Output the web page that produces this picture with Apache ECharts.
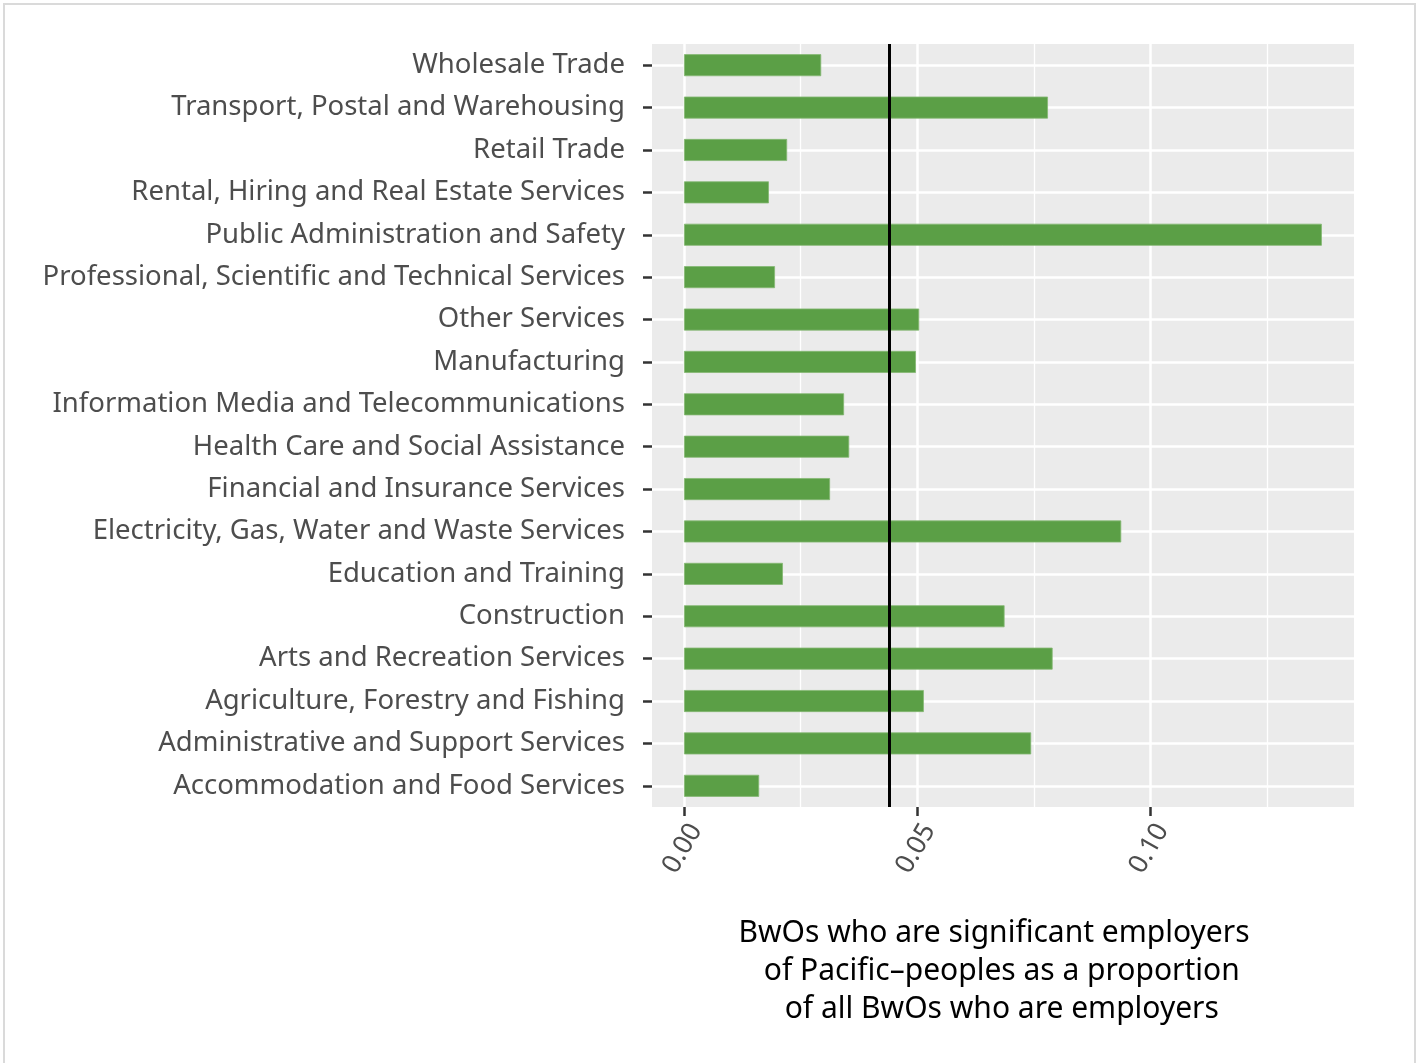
<!DOCTYPE html>
<html>
<head>
    <meta charset="utf-8">
    <title>BwOs significant employers of Pacific peoples</title>
    <script src="https://cdn.jsdelivr.net/npm/echarts@6/dist/echarts.min.js"></script>
    <style>
        html, body { margin: 0; padding: 0; background: #fff; overflow: hidden; }
        #main { width: 1416px; height: 1063px; }
        #frame {
            position: absolute; left: 3px; top: 3px; width: 1413px; height: 1080px;
            box-sizing: border-box; border: 2px solid #dadada; pointer-events: none;
        }
    </style>
</head>
<body>
<div id="main"></div>
<div id="frame"></div>
<script type="text/javascript">
    // industries, top to bottom as in the picture
    var industries = [
        'Wholesale Trade',
        'Transport, Postal and Warehousing',
        'Retail Trade',
        'Rental, Hiring and Real Estate Services',
        'Public Administration and Safety',
        'Professional, Scientific and Technical Services',
        'Other Services',
        'Manufacturing',
        'Information Media and Telecommunications',
        'Health Care and Social Assistance',
        'Financial and Insurance Services',
        'Electricity, Gas, Water and Waste Services',
        'Education and Training',
        'Construction',
        'Arts and Recreation Services',
        'Agriculture, Forestry and Fishing',
        'Administrative and Support Services',
        'Accommodation and Food Services'
    ];
    // proportion of employer BwOs that significantly employ Pacific peoples
    var proportions = [
        0.0294, 0.0780, 0.0221, 0.0182, 0.1367, 0.0195,
        0.0504, 0.0497, 0.0343, 0.0354, 0.0313, 0.0937,
        0.0212, 0.0687, 0.0790, 0.0514, 0.0744, 0.0161
    ];
    // overall proportion (black reference line)
    var overall = [0.0440];

    var xTicks = [0, 0.05, 0.10];
    var xTickLabels = ['0.00', '0.05', '0.10'];
    var xMinor = [0.025, 0.075, 0.125];
    var xRange = [-0.00686, 0.14359];

    var axisTitle = 'BwOs who are significant employers\n  of Pacific\u2013peoples as a proportion\n  of all BwOs who are employers';

    var myChart = echarts.init(document.getElementById('main'));

    var gridLines = [];
    xMinor.forEach(function (v) {
        gridLines.push({ xAxis: v, lineStyle: { color: '#fff', width: 1.3, type: 'solid' } });
    });
    xTicks.forEach(function (v) {
        gridLines.push({ xAxis: v, lineStyle: { color: '#fff', width: 2.5, type: 'solid' } });
    });
    industries.forEach(function (c) {
        gridLines.push({ yAxis: c, lineStyle: { color: '#fff', width: 2.5, type: 'solid' } });
    });

    var option = {
        animation: false,
        backgroundColor: '#ffffff',
        textStyle: { fontFamily: 'Noto Sans' },
        grid: {
            left: 652, right: 62, top: 44, bottom: 256,
            show: true, backgroundColor: '#ebebeb', borderWidth: 0
        },
        xAxis: {
            type: 'value',
            min: xRange[0],
            max: xRange[1],
            axisLine: { show: true, onZero: false, lineStyle: { color: 'rgba(0,0,0,0)', width: 0 } },
            splitLine: { show: false },
            axisTick: {
                show: true, length: 9, customValues: xTicks,
                lineStyle: { color: '#333', width: 2.5 }
            },
            axisLabel: {
                customValues: xTicks,
                rotate: 60,
                margin: 12,
                verticalAlign: 'top',
                color: '#4d4d4d',
                fontSize: 26.5,
                fontFamily: 'Noto Sans',
                formatter: function (v) {
                    var i = xTicks.indexOf(v);
                    return i >= 0 ? xTickLabels[i] : '';
                }
            },
            name: axisTitle,
            nameLocation: 'middle',
            nameGap: 107,
            nameTextStyle: {
                color: '#000', fontSize: 30, lineHeight: 38,
                fontFamily: 'Noto Sans', align: 'center', verticalAlign: 'top',
                padding: [0, 18, 0, 0]
            }
        },
        yAxis: {
            type: 'category',
            inverse: true,
            data: industries,
            axisLine: { show: true, onZero: false, lineStyle: { color: 'rgba(0,0,0,0)', width: 0 } },
            splitLine: { show: false },
            axisTick: {
                show: true, alignWithLabel: true, length: 9,
                lineStyle: { color: '#333', width: 2.5 }
            },
            axisLabel: {
                margin: 27,
                color: '#4d4d4d',
                fontSize: 27.5,
                fontFamily: 'Noto Sans'
            }
        },
        series: [
            {
                name: 'grid',
                type: 'line',
                data: [],
                z: 1,
                silent: true,
                markLine: {
                    z: 1,
                    silent: true,
                    precision: 4,
                    symbol: ['none', 'none'],
                    label: { show: false },
                    animation: false,
                    data: gridLines
                }
            },
            {
                name: 'proportion',
                type: 'bar',
                data: proportions,
                barWidth: 22,
                z: 2,
                itemStyle: { color: '#5b9f46', borderColor: '#84b872', borderWidth: 0.8 }
            },
            {
                name: 'overall',
                type: 'line',
                data: [],
                z: 3,
                silent: true,
                markLine: {
                    z: 5,
                    silent: true,
                    precision: 4,
                    symbol: ['none', 'none'],
                    label: { show: false },
                    animation: false,
                    lineStyle: { color: '#000', width: 3, type: 'solid' },
                    data: overall.map(function (v) { return { xAxis: v }; })
                }
            }
        ]
    };

    myChart.setOption(option);
</script>
</body>
</html>
